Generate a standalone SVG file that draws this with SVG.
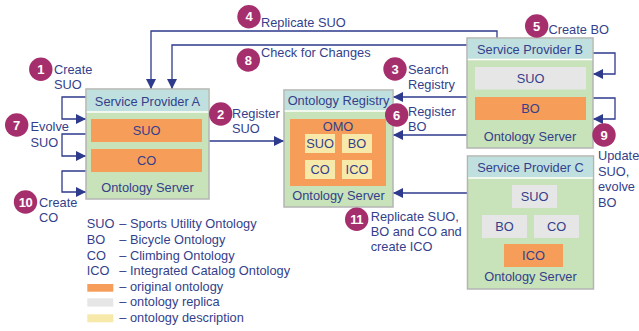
<svg xmlns="http://www.w3.org/2000/svg" width="639" height="331" viewBox="0 0 639 331">
<style>
text{font-family:"Liberation Sans",Arial,sans-serif;font-size:12.8px;fill:#343f8b}
.c{text-anchor:middle}
.box{fill:#c8e2b9;stroke:#b4b4b4;stroke-width:1.5}
.hdr{fill:#bfe0df}
.sep{stroke:#ffffff;stroke-width:1.5}
.org{fill:#f79d5a}
.rep{fill:#e6e6e6}
.desc{fill:#f7e9a9}
.badge circle{fill:#a52f6d}
.badge text{fill:#ffffff;font-weight:bold;font-size:13px;text-anchor:middle}
.conn path{fill:none;stroke:#2e3a8c;stroke-width:1.3}
</style>
<defs>
<marker id="ah" viewBox="0 0 10 10" refX="10" refY="5" markerWidth="10" markerHeight="10" markerUnits="userSpaceOnUse" orient="auto">
<path d="M0,0 L10,5 L0,10 Z" fill="#2e3a8c"/>
</marker>
</defs>
<g id="connectors" class="conn">
<path d="M497,38 V31 H151 V89" marker-end="url(#ah)"/>
<path d="M467,45 H172 V89" marker-end="url(#ah)"/>
<path d="M209,141 H284" marker-end="url(#ah)"/>
<path d="M467,97 H393" marker-end="url(#ah)"/>
<path d="M467,135 H393" marker-end="url(#ah)"/>
<path d="M467,193 H393" marker-end="url(#ah)"/>
<path d="M593,53 H615 V74 H593" marker-end="url(#ah)"/>
<path d="M593,98 H615 V119 H593" marker-end="url(#ah)"/>
<path d="M86,97 H62 V119 H86" marker-end="url(#ah)"/>
<path d="M86,134 H62 V156 H86" marker-end="url(#ah)"/>
<path d="M86,171 H62 V192 H86" marker-end="url(#ah)"/>
</g>
<g id="spA">
<rect class="box" x="86" y="89" width="123" height="110"/>
<rect class="hdr" x="86.75" y="89.75" width="121.5" height="21.5"/>
<line class="sep" x1="86.75" y1="112" x2="208.25" y2="112"/>
<text class="c" x="147.5" y="105.5">Service Provider A</text>
<rect class="org" x="91" y="119" width="111" height="23"/>
<text class="c" x="146.5" y="135">SUO</text>
<rect class="org" x="91" y="149" width="111" height="23"/>
<text class="c" x="146.5" y="165">CO</text>
<text class="c" x="147.5" y="192">Ontology Server</text>
</g>
<g id="registry">
<rect class="box" x="284" y="90" width="109" height="117"/>
<rect class="hdr" x="284.75" y="90.75" width="107.5" height="19.5"/>
<line class="sep" x1="284.75" y1="111" x2="392.25" y2="111"/>
<text class="c" x="338.5" y="105">Ontology Registry</text>
<rect class="org" x="290" y="119" width="96" height="67"/>
<text class="c" x="338" y="131">OMO</text>
<rect class="desc" x="305" y="134" width="30" height="19"/>
<text class="c" x="320" y="148">SUO</text>
<rect class="desc" x="342" y="134" width="30" height="19"/>
<text class="c" x="357" y="148">BO</text>
<rect class="desc" x="305" y="160" width="30" height="19"/>
<text class="c" x="320" y="174">CO</text>
<rect class="desc" x="342" y="160" width="30" height="19"/>
<text class="c" x="357" y="174">ICO</text>
<text class="c" x="338.5" y="200">Ontology Server</text>
</g>
<g id="spB">
<rect class="box" x="467" y="38" width="126" height="110"/>
<rect class="hdr" x="467.75" y="38.75" width="124.5" height="20"/>
<line class="sep" x1="467.75" y1="59.5" x2="592.25" y2="59.5"/>
<text class="c" x="530" y="53.5">Service Provider B</text>
<rect class="rep" x="475" y="67" width="111" height="22.5"/>
<text class="c" x="530.5" y="83">SUO</text>
<rect class="org" x="475" y="97" width="111" height="23"/>
<text class="c" x="530.5" y="113">BO</text>
<text class="c" x="530" y="141">Ontology Server</text>
</g>
<g id="spC">
<rect class="box" x="467.5" y="156" width="126" height="133"/>
<rect class="hdr" x="468.25" y="156.75" width="124.5" height="20.5"/>
<line class="sep" x1="468.25" y1="178" x2="592.75" y2="178"/>
<text class="c" x="530.5" y="172">Service Provider C</text>
<rect class="rep" x="512" y="185" width="45" height="23"/>
<text class="c" x="534.5" y="201">SUO</text>
<rect class="rep" x="482" y="215" width="45" height="23"/>
<text class="c" x="504.5" y="231">BO</text>
<rect class="rep" x="534" y="215" width="45" height="23"/>
<text class="c" x="556.5" y="231">CO</text>
<rect class="org" x="504" y="244" width="59" height="23"/>
<text class="c" x="533.5" y="260">ICO</text>
<text class="c" x="530.5" y="281">Ontology Server</text>
</g>
<g id="step1">
<g class="badge"><circle cx="40.8" cy="69.3" r="11.7"/><text x="40.8" y="74">1</text></g>
<text x="54" y="73.5">Create</text><text x="54" y="88.5">SUO</text>
</g>
<g id="step2">
<g class="badge"><circle cx="220.7" cy="114" r="11.7"/><text x="220.7" y="118.7">2</text></g>
<text x="232" y="117.5">Register</text><text x="232" y="132.5">SUO</text>
</g>
<g id="step3">
<g class="badge"><circle cx="395" cy="69" r="11.7"/><text x="395" y="73.7">3</text></g>
<text x="408" y="73.5">Search</text><text x="408" y="88.5">Registry</text>
</g>
<g id="step4">
<g class="badge"><circle cx="249" cy="16.7" r="11.7"/><text x="249" y="21.4">4</text></g>
<text x="261" y="26.7">Replicate SUO</text>
</g>
<g id="step5">
<g class="badge"><circle cx="536.7" cy="26" r="11.7"/><text x="536.7" y="30.7">5</text></g>
<text x="548.5" y="34">Create BO</text>
</g>
<g id="step6">
<g class="badge"><circle cx="396.7" cy="115" r="11.7"/><text x="396.7" y="119.7">6</text></g>
<text x="408" y="116">Register</text><text x="408" y="131">BO</text>
</g>
<g id="step7">
<g class="badge"><circle cx="16.7" cy="125" r="11.7"/><text x="16.7" y="129.7">7</text></g>
<text x="30.5" y="131">Evolve</text><text x="30.5" y="146.5">SUO</text>
</g>
<g id="step8">
<g class="badge"><circle cx="248.3" cy="60" r="11.7"/><text x="248.3" y="64.7">8</text></g>
<text x="261" y="57.3">Check for Changes</text>
</g>
<g id="step9">
<g class="badge"><circle cx="604" cy="135" r="11.7"/><text x="604" y="139.7">9</text></g>
<text x="598" y="160">Update</text><text x="598" y="175.5">SUO,</text><text x="598" y="191">evolve</text><text x="598" y="206.5">BO</text>
</g>
<g id="step10">
<g class="badge"><circle cx="25.5" cy="202" r="11.7"/><text x="25.5" y="206.7" style="letter-spacing:-0.5px">10</text></g>
<text x="39" y="206.7">Create</text><text x="39" y="222.3">CO</text>
</g>
<g id="step11">
<g class="badge"><circle cx="356.7" cy="219.3" r="11.7"/><text x="356.7" y="224" style="letter-spacing:-0.5px">11</text></g>
<text x="370.7" y="221">Replicate SUO,</text><text x="370.7" y="236">BO and CO and</text><text x="370.7" y="251">create ICO</text>
</g>
<g id="legend">
<text x="86.7" y="228.3">SUO</text><text x="119.3" y="228.3">– Sports Utility Ontology</text>
<text x="86.7" y="244">BO</text><text x="119.3" y="244">– Bicycle Ontology</text>
<text x="86.7" y="259.5">CO</text><text x="119.3" y="259.5">– Climbing Ontology</text>
<text x="86.7" y="275">ICO</text><text x="119.3" y="275">– Integrated Catalog Ontology</text>
<rect class="org" x="87.3" y="284" width="26" height="7.7"/><text x="119.3" y="291">– original ontology</text>
<rect class="rep" x="87.3" y="298.3" width="26" height="8.3"/><text x="119.3" y="306">– ontology replica</text>
<rect class="desc" x="87.3" y="314.3" width="26" height="8"/><text x="119.3" y="321.5">– ontology description</text>
</g>
</svg>
